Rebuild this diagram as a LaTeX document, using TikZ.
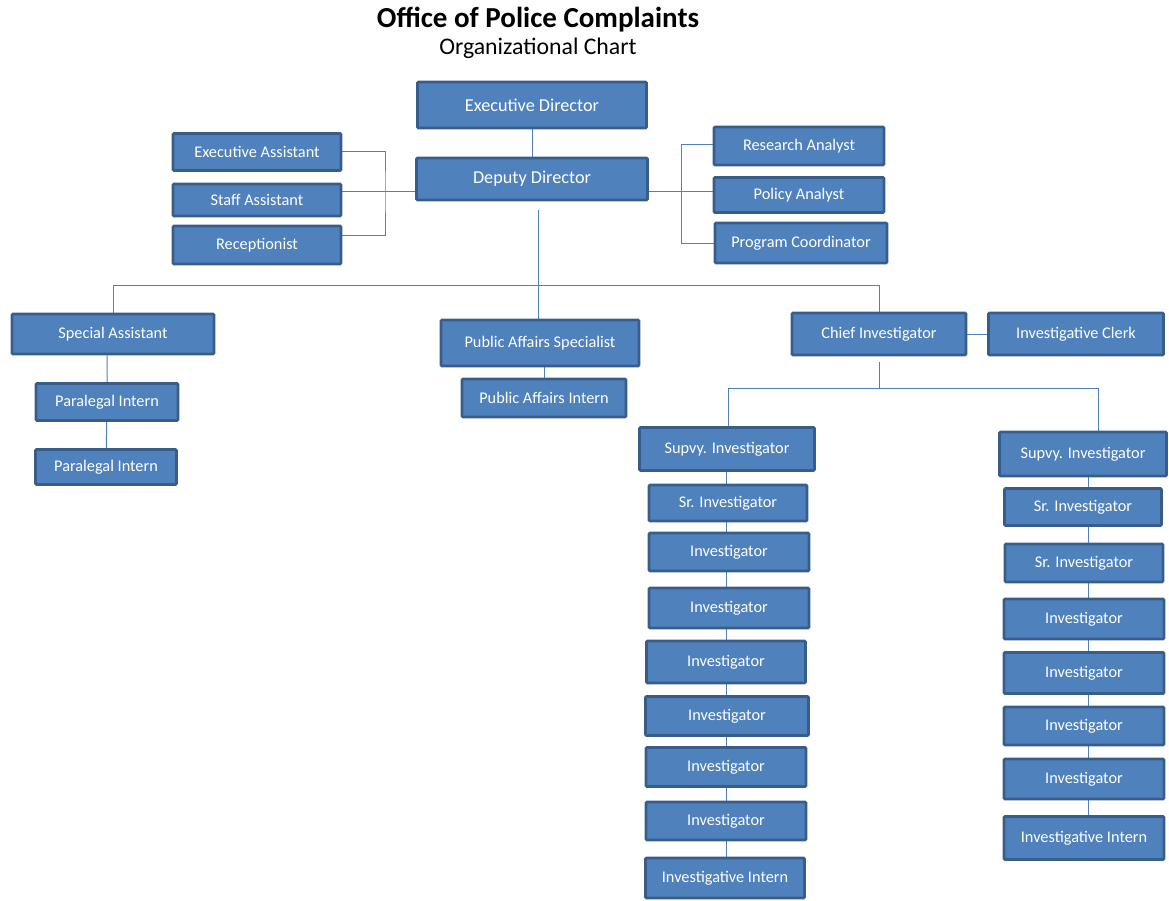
\documentclass[tikz,border=0pt]{standalone}
\usepackage{fontspec}
\setmainfont{Carlito}
\usetikzlibrary{backgrounds}

\definecolor{boxfill}{RGB}{79,129,189}
\definecolor{boxline}{RGB}{56,93,138}
\definecolor{linkcol}{RGB}{79,129,189}

\tikzset{
  unit/.style={rectangle, fill=boxfill, draw=boxline, line width=2.6pt, rounded corners=1pt,
    text=white, font=\fontsize{16.3}{18}\selectfont, inner sep=0pt},
  bigunit/.style={unit, font=\fontsize{18.2}{20}\selectfont},
  link/.style={draw=linkcol, line width=1pt}
}

\begin{document}
\begin{tikzpicture}[x=1pt,y=-1pt]
\useasboundingbox (0,0) rectangle (1169,900);

% Title
\node (title) at (538,20) {\fontsize{29}{31}\selectfont\bfseries Office of Police Complaints};
\node (subtitle) at (538,48) {\fontsize{23.8}{26}\selectfont Organizational Chart};

% Top
\node[bigunit, minimum width=229pt, minimum height=46pt] (exec) at (532,105) {Executive Director};
\node[bigunit, minimum width=231pt, minimum height=42pt] (dep) at (532,179) {Deputy Director};

% Left staff
\node[unit, minimum width=168pt, minimum height=37pt] (ea) at (257,152) {Executive Assistant};
\node[unit, minimum width=168pt, minimum height=32pt] (sa) at (257,200) {Staff Assistant};
\node[unit, minimum width=168pt, minimum height=38pt] (rec) at (257,245) {Receptionist};

% Right staff
\node[unit, minimum width=170pt, minimum height=38pt] (ra) at (799,146) {Research Analyst};
\node[unit, minimum width=170pt, minimum height=35pt] (pa) at (799,195) {Policy Analyst};
\node[unit, minimum width=172pt, minimum height=40pt] (pc) at (801,243) {Program Coordinator};

% Second level
\node[unit, minimum width=202pt, minimum height=40pt] (spa) at (113,334) {Special Assistant};
\node[unit, minimum width=142pt, minimum height=37pt] (pi1) at (107,402) {Paralegal Intern};
\node[unit, minimum width=141pt, minimum height=35pt] (pi2) at (106,467) {Paralegal Intern};
\node[unit, minimum width=198pt, minimum height=46pt] (pas) at (540,343) {Public Affairs Specialist};
\node[unit, minimum width=164pt, minimum height=38pt] (pai) at (544,398) {Public Affairs Intern};
\node[unit, minimum width=174pt, minimum height=42pt] (ci) at (879,334) {Chief Investigator};
\node[unit, minimum width=175pt, minimum height=42pt] (ic) at (1076,334) {Investigative Clerk};

% Left team
\node[unit, minimum width=175pt, minimum height=43pt] (svl) at (727,449) {Supvy. Investigator};
\node[unit, minimum width=158pt, minimum height=36pt] (srl) at (728,503) {Sr. Investigator};
\node[unit, minimum width=160pt, minimum height=38pt] (il1) at (729,552) {Investigator};
\node[unit, minimum width=160pt, minimum height=40pt] (il2) at (729,608) {Investigator};
\node[unit, minimum width=159pt, minimum height=42pt] (il3) at (726,662) {Investigator};
\node[unit, minimum width=163pt, minimum height=39pt] (il4) at (727,716) {Investigator};
\node[unit, minimum width=160pt, minimum height=39pt] (il5) at (726,767) {Investigator};
\node[unit, minimum width=160pt, minimum height=38pt] (il6) at (726,821) {Investigator};
\node[unit, minimum width=159pt, minimum height=40pt] (itl) at (725,878) {Investigative Intern};

% Right team
\node[unit, minimum width=167pt, minimum height=44pt] (svr) at (1083,454) {Supvy. Investigator};
\node[unit, minimum width=157pt, minimum height=37pt] (srr1) at (1083,507) {Sr. Investigator};
\node[unit, minimum width=158pt, minimum height=38pt] (srr2) at (1084,563) {Sr. Investigator};
\node[unit, minimum width=160pt, minimum height=40pt] (ir1) at (1084,619) {Investigator};
\node[unit, minimum width=160pt, minimum height=41pt] (ir2) at (1084,673) {Investigator};
\node[unit, minimum width=160pt, minimum height=38pt] (ir3) at (1084,726) {Investigator};
\node[unit, minimum width=160pt, minimum height=40pt] (ir4) at (1084,779) {Investigator};
\node[unit, minimum width=160pt, minimum height=43pt] (itr) at (1084,838) {Investigative Intern};

% bend points
\coordinate (lb) at (385,191);
\coordinate (rb) at (681,191);
\coordinate (mid) at (538,210);
\coordinate (bar) at (538,285);
\coordinate (cbar) at (879,362);

\begin{scope}[on background layer]
\draw[link] (exec) -- (dep);
% left staff
\draw[link] (lb -| dep.west) -- (lb);
\draw[link] ([yshift=1pt]ea.east) -| (lb) |- ([yshift=10pt]rec.east);
\draw[link] (lb) -- (lb -| sa.east);
% right staff
\draw[link] (rb -| dep.east) -- (rb);
\draw[link] ([yshift=2pt]ra.west) -| (rb) |- (pc.west);
\draw[link] (rb) -- (rb -| pa.west);
% second level
\draw[link] (mid) -- (mid |- pas.north);
\draw[link] (bar -| spa.north) -- (bar -| ci.north);
\draw[link] (bar -| spa.north) -- (spa.north);
\draw[link] (bar -| ci.north) -- (ci.north);
\draw[link] (spa.south -| pi1) -- (pi1) -- (pi2);
\draw[link] (pas.south -| pai) -- (pai);
\draw[link] (ci) -- (ic);
% chief to teams
\draw[link] (cbar) -- ++(0,26) coordinate (tbar);
\draw[link] (tbar -| 728,0) -- (tbar -| 1098,0);
\draw[link] (tbar -| 728,0) -- (svl.north -| 728,0);
\draw[link] (tbar -| 1098,0) -- (svr.north -| 1098,0);
\draw[link] (svl.south -| 726,0) -- (itl.north -| 726,0);
\draw[link] (svr.south -| 1088,0) -- (itr.north -| 1088,0);
\end{scope}
\end{tikzpicture}
\end{document}
